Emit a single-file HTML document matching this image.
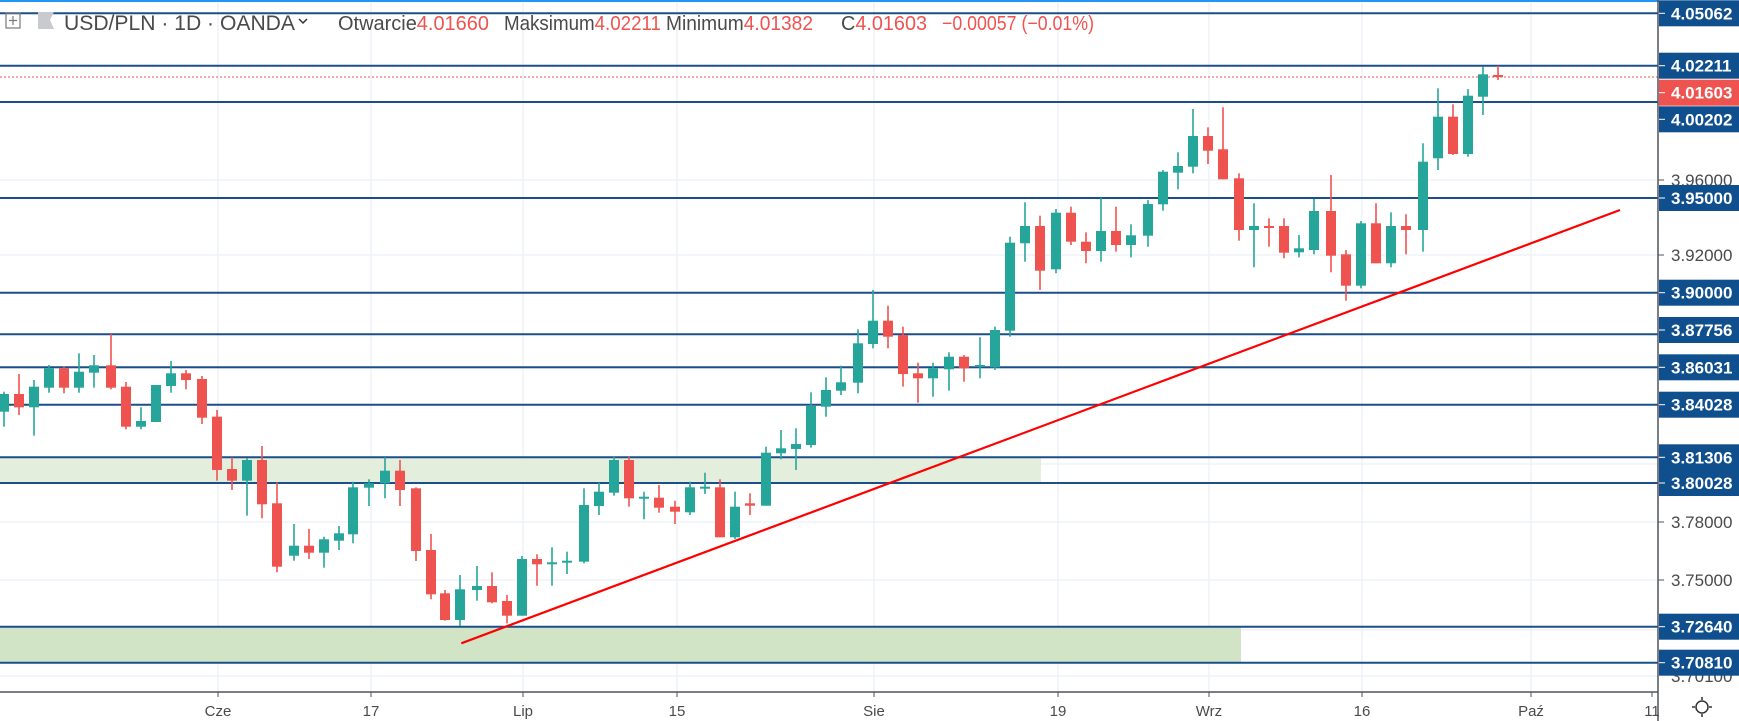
<!DOCTYPE html>
<html><head><meta charset="utf-8">
<style>
html,body{margin:0;padding:0;background:#fff;}
body{width:1739px;height:721px;overflow:hidden;}
svg{display:block;font-family:"Liberation Sans",sans-serif;}
</style></head>
<body>
<svg id="c" width="1739" height="721" viewBox="0 0 1739 721" xmlns="http://www.w3.org/2000/svg">
<rect width="1739" height="721" fill="#fff"/>
<g stroke="#edf2f8" stroke-width="1.5">
<line x1="218" y1="0" x2="218" y2="692"/><line x1="371" y1="0" x2="371" y2="692"/>
<line x1="523" y1="0" x2="523" y2="692"/><line x1="677" y1="0" x2="677" y2="692"/>
<line x1="874" y1="0" x2="874" y2="692"/><line x1="1058" y1="0" x2="1058" y2="692"/>
<line x1="1209" y1="0" x2="1209" y2="692"/><line x1="1362" y1="0" x2="1362" y2="692"/>
<line x1="1531" y1="0" x2="1531" y2="692"/>
<line x1="0" y1="180" x2="1658" y2="180"/><line x1="0" y1="255" x2="1658" y2="255"/>
<line x1="0" y1="522" x2="1658" y2="522"/><line x1="0" y1="580" x2="1658" y2="580"/>
<line x1="0" y1="676" x2="1658" y2="676"/><line x1="0" y1="368" x2="1658" y2="368"/>
<line x1="0" y1="464" x2="1658" y2="464"/><line x1="0" y1="630" x2="1658" y2="630"/>
</g>
<rect x="0" y="457.3" width="1041" height="25.7" fill="#e3efdc"/>
<rect x="0" y="626.7" width="1241" height="36" fill="#d1e5c6"/>
<line x1="0" y1="1" x2="1739" y2="1" stroke="#2196f3" stroke-width="2"/>
<g stroke="#1b4f8a" stroke-width="2">
<line x1="0" y1="13.3" x2="1658" y2="13.3"/><line x1="0" y1="65.7" x2="1658" y2="65.7"/>
<line x1="0" y1="102" x2="1658" y2="102"/><line x1="0" y1="198" x2="1658" y2="198"/>
<line x1="0" y1="292.7" x2="1658" y2="292.7"/><line x1="0" y1="334.3" x2="1658" y2="334.3"/>
<line x1="0" y1="367.3" x2="1658" y2="367.3"/><line x1="0" y1="404.7" x2="1658" y2="404.7"/>
<line x1="0" y1="457.3" x2="1658" y2="457.3"/><line x1="0" y1="483" x2="1658" y2="483"/>
<line x1="0" y1="626.7" x2="1658" y2="626.7"/><line x1="0" y1="662.7" x2="1658" y2="662.7"/>
</g>
<line x1="0" y1="77" x2="1658" y2="77" stroke="#ef5350" stroke-width="1" stroke-dasharray="2,2"/>
<g id="candles"></g>
<line x1="461.3" y1="643.3" x2="1620" y2="210" stroke="#ff0000" stroke-width="2.2"/>
<rect x="1659" y="0" width="80" height="721" fill="#fff"/>
<rect x="0" y="692" width="1659" height="29" fill="#fff"/>
<line x1="1658" y1="0" x2="1658" y2="721" stroke="#50535e" stroke-width="1.5"/>
<line x1="0" y1="692" x2="1658" y2="692" stroke="#50535e" stroke-width="1.5"/>
<g stroke="#50535e" stroke-width="1">
<line x1="218" y1="692" x2="218" y2="697"/><line x1="371" y1="692" x2="371" y2="697"/>
<line x1="523" y1="692" x2="523" y2="697"/><line x1="677" y1="692" x2="677" y2="697"/>
<line x1="874" y1="692" x2="874" y2="697"/><line x1="1058" y1="692" x2="1058" y2="697"/>
<line x1="1209" y1="692" x2="1209" y2="697"/><line x1="1362" y1="692" x2="1362" y2="697"/>
<line x1="1531" y1="692" x2="1531" y2="697"/><line x1="1652" y1="692" x2="1652" y2="697"/>
</g>
<g font-size="15" fill="#4a4a4a" text-anchor="middle">
<text x="218" y="716">Cze</text><text x="371" y="716">17</text><text x="523" y="716">Lip</text>
<text x="677" y="716">15</text><text x="874" y="716">Sie</text><text x="1058" y="716">19</text>
<text x="1209" y="716">Wrz</text><text x="1362" y="716">16</text><text x="1531" y="716">Paź</text>
<text x="1652" y="716">11</text>
</g>
<rect x="1659" y="692" width="80" height="29" fill="#fff"/>
<g stroke="#333" stroke-width="1.5" fill="none">
<circle cx="1702" cy="707" r="6"/>
<line x1="1702" y1="697" x2="1702" y2="700"/><line x1="1702" y1="714" x2="1702" y2="717"/>
<line x1="1692" y1="707" x2="1695" y2="707"/><line x1="1709" y1="707" x2="1712" y2="707"/>
</g>
<g font-size="17" fill="#4a4a4a">
<text x="1671" y="186">3.96000</text><text x="1671" y="261">3.92000</text>
<text x="1671" y="528">3.78000</text><text x="1671" y="586">3.75000</text>
<text x="1671" y="682">3.70100</text>
</g>
<g stroke="#50535e" stroke-width="1">
<line x1="1658" y1="180" x2="1664" y2="180"/><line x1="1658" y1="255" x2="1664" y2="255"/>
<line x1="1658" y1="522" x2="1664" y2="522"/><line x1="1658" y1="580" x2="1664" y2="580"/>
</g>
<g id="labels"></g>
<g>
<rect x="6" y="13" width="14" height="15" fill="none" stroke="#777" stroke-width="1.2"/>
<line x1="13" y1="16" x2="13" y2="25" stroke="#777" stroke-width="1.2"/>
<line x1="9" y1="20.5" x2="17" y2="20.5" stroke="#777" stroke-width="1.2"/>
<polygon points="38,12 54,12 50,20 54,29 38,29" fill="#c8cad0"/>
<text x="64" y="30" font-size="21" fill="#4a4a4a" textLength="231" lengthAdjust="spacingAndGlyphs">USD/PLN · 1D · OANDA</text>
<polyline points="299,19 303,23 307,19" fill="none" stroke="#333" stroke-width="1.5"/>
<text x="338" y="30" font-size="20" fill="#4a4a4a" textLength="151" lengthAdjust="spacingAndGlyphs">Otwarcie<tspan fill="#ef5350">4.01660</tspan></text>
<text x="504" y="30" font-size="20" fill="#4a4a4a" textLength="157" lengthAdjust="spacingAndGlyphs">Maksimum<tspan fill="#ef5350">4.02211</tspan></text>
<text x="666" y="30" font-size="20" fill="#4a4a4a" textLength="147" lengthAdjust="spacingAndGlyphs">Minimum<tspan fill="#ef5350">4.01382</tspan></text>
<text x="841" y="30" font-size="20" fill="#4a4a4a" textLength="86" lengthAdjust="spacingAndGlyphs">C<tspan fill="#ef5350">4.01603</tspan></text>
<text x="942" y="30" font-size="20" fill="#ef5350" textLength="152" lengthAdjust="spacingAndGlyphs">−0.00057 (−0.01%)</text>
</g>
</svg>
<script>
var d=[
[4,394,411.7,391.7,426.7,1],[19,394,407.3,374,415,0],[34,386.7,407.3,380,435.7,1],[49,368.3,387.7,365,392.7,1],
[64,368.3,387.7,366.7,393.3,0],[79,371.7,387.7,353.3,392.7,1],[94,365.3,372.7,355,387.7,1],[111,365.3,387.7,334,389.3,0],
[126,386.7,426.7,382,429.3,0],[141,421,426.7,407.3,429.3,1],[156,385,422,385,422,1],[171,373.3,386,361,392.7,1],
[186,373.3,380,370,389.3,0],[202,379,417.7,376,424,0],[217,416.7,470,410,480.7,0],[232,469,480.7,457.3,490,0],
[247,460,480.7,458.3,515.7,1],[262,460,504.3,446,518.3,0],[277,503.3,566.7,482.3,572.3,0],[294,545.7,555.7,524,560.7,1],
[309,545.7,552.7,529,559,0],[324,539.3,552.7,536.7,567.7,1],[339,533.3,540.7,526,550,1],
[353,487.3,534.3,481.7,543.3,1],[369,483.3,487.7,479.3,506,1],[385,470.7,483.3,457.3,498.3,1],[400,470.7,490,460,506,0],
[416,488.3,551,487.3,561,0],[431,550,594.3,534,599.3,0],[445,593.3,620,590,620.7,0],[460,589.3,620,575,626,1],
[477,586,590,566,600.7,1],[492,586,602.3,572.3,603.3,0],[507,601,615.7,595,623.3,0],[522,559,615.7,556,615.7,1],
[537,559,564.3,554.3,585.7,0],[552,562.3,564,547.3,585.7,1],[567,560.7,562.7,551.7,574,1],[584,505,561.7,488.3,563.3,1],
[599,491.7,506,482.7,515,1],[614,460,492.7,456.7,495.7,1],[629,460,498.3,456.7,506.7,0],[644,496.7,498.3,491.7,519.3,1],
[659,497.7,507.7,485,512.7,0],[675,506.7,511.7,500.7,524,0],
[690,487.3,512.3,481.7,515,1],[705,486.7,487.7,472.7,494,1],[720,487.3,537.3,479.3,537.3,0],[735,506.7,537.3,491.7,539,1],
[750,503.3,505.7,493.3,515,0],[766,452.7,505.7,446.7,505.7,1],[781,448.3,453.3,430,459.3,1],[796,444,449,428.3,470,1],
[811,406,445,392.3,447.7,1],[826,390,406.7,377.3,416.7,1],[841,382.3,390.7,365.7,395,1],[858,343.3,382.7,329.3,393.3,1],
[873,320.7,344,290,348.3,1],[888,320.7,336.7,305.7,348.3,0],[903,335,374,326.7,386.7,0],[918,373.3,378.3,362.7,402.7,0],
[933,368.3,378.3,362.7,396.7,1],[949,356.7,369.3,352.3,390.7,1],[964,356.7,368.3,355,381.7,0],[980,365,366,337.3,378.3,1],
[995,330,367.3,326.7,370,1],[1010,242.7,330.7,236.7,336.7,1],
[1025,226,243.3,202.3,261.7,1],[1040,226,270.7,215.7,290,0],[1056,212.7,269.3,209,273.3,1],[1071,212.7,241.7,206.7,245,0],
[1086,241.7,251,232.3,263.3,0],[1101,231,251,197.7,261.7,1],[1116,231,245,206.7,251.7,0],[1131,235.3,245,224.3,257.3,1],
[1148,204,235.7,200,246.7,1],[1163,171.7,204.3,170,210.7,1],[1178,166,172.7,152.3,189.3,1],[1193,136,166.7,109,173.3,1],
[1208,136,150.7,127.3,164,0],[1223,149.3,179.3,107.3,179.3,0],[1239,178.3,230,173.3,240.7,0],[1254,226,230,203.3,267.3,1],
[1269,226,227.3,218.3,246.7,0],[1284,226,252.7,218.3,258.3,0],
[1299,248.3,252.3,235,257.3,1],[1314,211,250,199,254.3,1],[1331,211,255.7,175,272.3,0],[1346,254.3,285.7,250,300.7,0],
[1361,223.3,285.7,221,288.3,1],[1376,223.3,263.3,203.3,263.3,0],[1391,226,263.3,212.3,267.3,1],[1406,226,230,214.3,254.3,0],
[1423,161.7,230,143.3,251.7,1],[1438,116.7,158.3,88.3,170,1],[1453,116.7,154,104.3,155,0],[1468,95.7,154,89,156.7,1],
[1483,74.3,96.7,66.7,115,1],[1498,75,77,65.7,80,0]];
var s='';
for(var i=0;i<d.length;i++){var c=d[i],col=c[5]?'#26a69a':'#ef5350';
var h=Math.max(2,c[2]-c[1]);
s+='<line x1="'+c[0]+'" y1="'+c[3]+'" x2="'+c[0]+'" y2="'+c[4]+'" stroke="'+col+'" stroke-width="1.6"/>';
s+='<rect x="'+(c[0]-5)+'" y="'+c[1]+'" width="10" height="'+h+'" fill="'+col+'"/>';}
document.getElementById('candles').innerHTML=s;
var L=[["4.05062",13.3,"#0f4f8e"],["4.02211",65.7,"#0f4f8e"],["4.01603",92.7,"#ef5350"],["4.00202",119.3,"#0f4f8e"],
["3.95000",198,"#0f4f8e"],["3.90000",292.7,"#0f4f8e"],["3.87756",330,"#0f4f8e"],["3.86031",367.3,"#0f4f8e"],
["3.84028",404.7,"#0f4f8e"],["3.81306",457.3,"#0f4f8e"],["3.80028",483,"#0f4f8e"],["3.72640",626.7,"#0f4f8e"],["3.70810",662.7,"#0f4f8e"]];
var t='';
for(var j=0;j<L.length;j++){var l=L[j];
t+='<rect x="1659" y="'+(l[1]-13)+'" width="80" height="26" fill="'+l[2]+'"/>';
t+='<line x1="1659" y1="'+l[1]+'" x2="1665" y2="'+l[1]+'" stroke="#fff" stroke-width="1"/>';
t+='<text x="1671" y="'+(l[1]+6)+'" font-size="17" font-weight="bold" fill="#fff">'+l[0]+'</text>';}
document.getElementById('labels').innerHTML=t;
</script>
</body></html>
